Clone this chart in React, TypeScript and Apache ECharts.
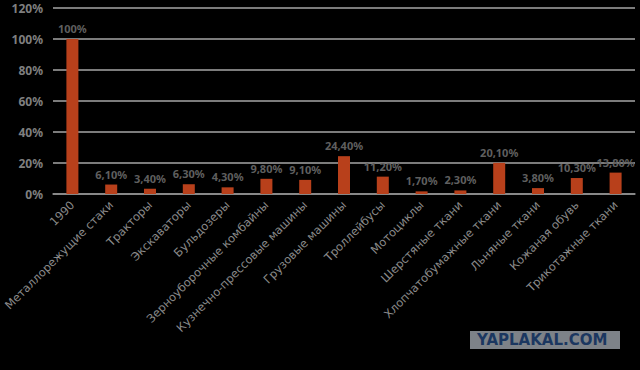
import React, { useEffect, useRef } from "react";
import * as echarts from "echarts";

const categories = [
  "1990",
  "Металлорежущие стаки",
  "Тракторы",
  "Экскаваторы",
  "Бульдозеры",
  "Зерноуборочные комбайны",
  "Кузнечно-прессовые машины",
  "Грузовые машины",
  "Троллейбусы",
  "Мотоциклы",
  "Шерстяные ткани",
  "Хлопчатобумажные ткани",
  "Льняные ткани",
  "Кожаная обувь",
  "Трикотажные ткани",
];
const values = [100, 6.1, 3.4, 6.3, 4.3, 9.8, 9.1, 24.4, 11.2, 1.7, 2.3, 20.1, 3.8, 10.3, 13.8];
const valueLabels = [
  "100%", "6,10%", "3,40%", "6,30%", "4,30%", "9,80%", "9,10%", "24,40%",
  "11,20%", "1,70%", "2,30%", "20,10%", "3,80%", "10,30%", "13,80%",
];

export default function App() {
  const ref = useRef<HTMLDivElement>(null);
  useEffect(() => {
    if (!ref.current) return;
    const chart = echarts.init(ref.current, null, { renderer: "svg" });
    chart.setOption({
      animation: false,
      backgroundColor: "#000000",
      textStyle: { fontFamily: "Noto Sans" },
      grid: { left: 53, right: 5, top: 8, bottom: 176 },
      xAxis: {
        type: "category",
        data: categories,
        axisTick: { show: false },
        axisLine: { lineStyle: { color: "#8c8c8c", width: 1.5 } },
        axisLabel: {
          rotate: 45,
          interval: 0,
          color: "#8a8a8a",
          fontSize: 11.5,
          fontFamily: "DejaVu Sans",
          margin: 9,
        },
      },
      yAxis: {
        type: "value",
        min: 0,
        max: 120,
        interval: 20,
        axisLine: { show: false },
        axisTick: { show: false },
        splitLine: { lineStyle: { color: "#a6a6a6", width: 1.5 } },
        axisLabel: {
          formatter: "{value}%",
          color: "#7f7f7f",
          fontSize: 12,
          fontWeight: "bold",
          margin: 10,
        },
      },
      series: [
        {
          type: "bar",
          data: values,
          barWidth: 12,
          itemStyle: { color: "#b8401b" },
          label: {
            show: true,
            position: "top",
            color: "#5f5f5f",
            fontSize: 11,
            fontWeight: "bold",
            distance: 5,
            formatter: (p: any) => valueLabels[p.dataIndex],
          },
        },
      ],
      graphic: [
        {
          type: "rect",
          left: 470,
          top: 331,
          shape: { width: 150, height: 18 },
          style: { fill: "#7d8288" },
        },
        {
          type: "text",
          left: 477,
          top: 332,
          style: {
            text: "YAPLAKAL.COM",
            fill: "#1b3760",
            font: "bold 15px 'DejaVu Sans'",
          },
        },
      ],
    });
    return () => chart.dispose();
  }, []);
  return (
    <div
      ref={ref}
      style={{ position: "fixed", left: 0, top: 0, width: 640, height: 370 }}
    />
  );
}
